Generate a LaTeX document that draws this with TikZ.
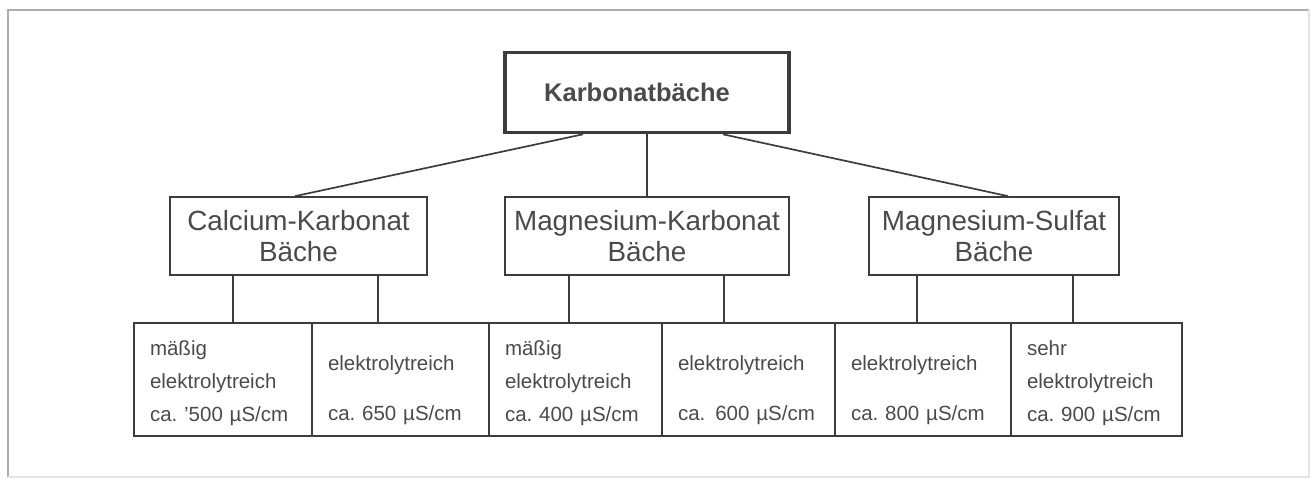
\documentclass[tikz,border=0pt]{standalone}
\usepackage{fontspec}
\setmainfont{Liberation Sans}
\definecolor{inkgray}{HTML}{4A4A4A}
\definecolor{linegray}{HTML}{3C3C3C}
\frenchspacing
\begin{document}
\begin{tikzpicture}[x=1pt,y=-1pt,
	box/.style={draw=linegray, line width=1.7pt, inner sep=0pt, text=inkgray},
	headbox/.style={box, line width=3.6pt, minimum width=284pt, minimum height=80pt, font=\fontsize{25.5}{30}\selectfont\bfseries},
	groupbox/.style={box, minimum height=78pt, align=center, font=\fontsize{27.8}{31}\selectfont},
	cell/.style={box, minimum height=113pt, inner xsep=16pt, align=left, font=\fontsize{20.5}{33}\selectfont},
	link/.style={draw=linegray, line width=1.7pt}]

	\useasboundingbox (0,0) rectangle (1311,479);

	%Frame
	\draw[gray!65, line width=1.4pt] (8,477) -- (8,10) -- (1309,10);
	\draw[gray!20, line width=1.2pt] (1309,10) -- (1309,477) -- (8,477);

	%Top
	\node[headbox] (top) at (647,92.5) {\hspace*{-20pt}Karbonatbäche};

	%Groups
	\node[groupbox, minimum width=257pt] (ca) at (298.5,236) {Calcium-Karbonat\\Bäche};
	\node[groupbox, minimum width=284pt] (mk) at (647,236) {Magnesium-Karbonat\\Bäche};
	\node[groupbox, minimum width=250pt] (ms) at (994,236) {Magnesium-Sulfat\\Bäche};

	%Cells
	\node[cell, text width=146pt] (c1) at (223,379.5) {\mbox{}\\[-10pt]mäßig\\elektrolytreich\\ca. \char"0027 500 µS/cm};
	\node[cell, text width=145pt] (c2) at (400.5,379.5) {\mbox{}\\[4pt]elektrolytreich\\[17pt]ca. 650 µS/cm};
	\node[cell, text width=141pt] (c3) at (575.5,379.5) {\mbox{}\\[-10pt]mäßig\\elektrolytreich\\ca. 400 µS/cm};
	\node[cell, text width=141pt] (c4) at (748.5,379.5) {\mbox{}\\[4pt]elektrolytreich\\[17pt]ca.\hspace{10pt}600 µS/cm};
	\node[cell, text width=144pt] (c5) at (923,379.5) {\mbox{}\\[4pt]elektrolytreich\\[17pt]ca. 800 µS/cm};
	\node[cell, text width=139pt] (c6) at (1096.5,379.5) {\mbox{}\\[-10pt]sehr\\elektrolytreich\\ca. 900 µS/cm};

	%Links
	\draw[link] ([xshift=-64pt]top.south) -- ([xshift=-3.5pt]ca.north);
	\draw[link] (top.south) -- (mk.north);
	\draw[link] ([xshift=76pt]top.south) -- ([xshift=14pt]ms.north);

	\foreach \grp/\dx/\cel in {ca/-65.5/c1, ca/79.5/c2, mk/-78/c3, mk/77/c4, ms/-77/c5, ms/79/c6}
		\draw[link] ([xshift=\dx pt]\grp.south) -- ([xshift=\dx pt]\grp.south |- \cel.north);

\end{tikzpicture}
\end{document}
